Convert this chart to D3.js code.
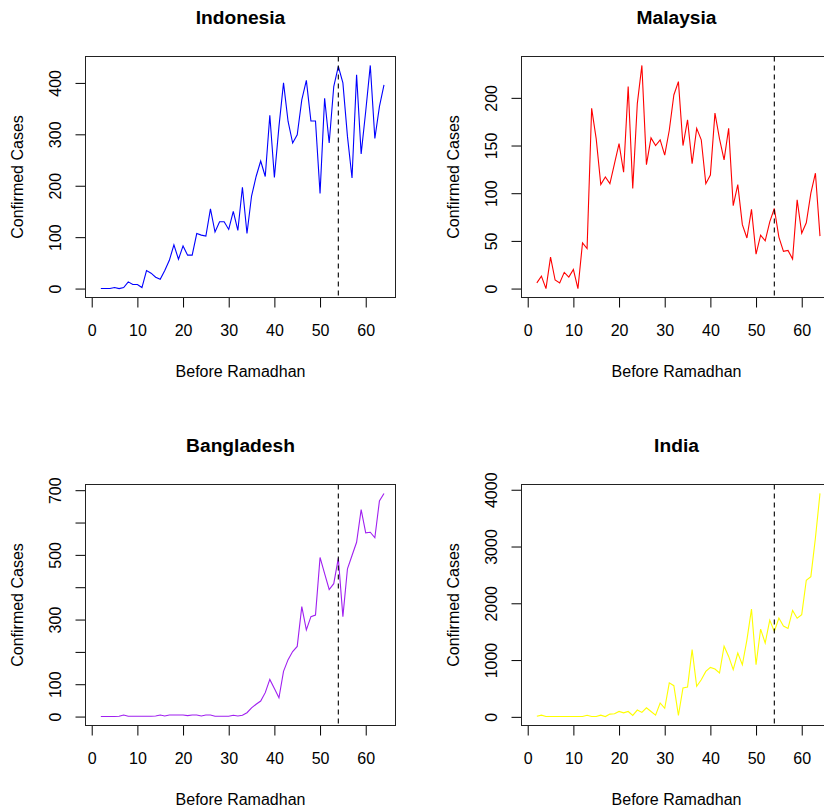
<!DOCTYPE html>
<html>
<head>
<meta charset="utf-8">
<script src="https://cdn.jsdelivr.net/npm/d3@7"></script>
<style>
  body { margin: 0; background: #fff; }
  svg { display: block; font-family: "Liberation Sans", Arial, sans-serif; }
</style>
</head>
<body>
<svg id="chart" width="824" height="807"></svg>
<script>

// days before Ramadhan (x axis)
const days = d3.range(2, 65);
const ramadhanDay = 54;

const indonesia = [0, 0, 0, 2, 0, 2, 13, 8, 8, 2,
    35, 30, 22, 18, 35, 55, 85, 57, 83, 65,
    65, 107, 104, 102, 155, 110, 130, 130, 115, 150,
    113, 197, 107, 180, 218, 248, 218, 337, 216, 315,
    400, 325, 283, 299, 367, 405, 326, 326, 185, 370,
    283, 393, 432, 400, 296, 215, 416, 262, 345, 434,
    292, 354, 396];

const malaysia = [6, 13, 0, 33, 9, 6, 17, 12, 20, 0,
    48, 42, 189, 157, 109, 117, 110, 131, 152, 122,
    212, 105, 194, 234, 130, 158, 150, 156, 140, 166,
    203, 217, 150, 177, 131, 168, 156, 110, 119, 184,
    157, 135, 168, 87, 109, 67, 53, 83, 36, 56,
    50, 70, 84, 54, 39, 40, 31, 93, 58, 69,
    100, 121, 55];

const bangladesh = [0, 0, 0, 0, 1, 5, 1, 1, 1, 1,
    1, 1, 2, 5, 2, 5, 5, 5, 5, 3,
    5, 5, 2, 5, 5, 1, 1, 1, 1, 4,
    2, 4, 12, 27, 38, 48, 74, 115, 87, 58,
    140, 176, 201, 217, 340, 268, 309, 314, 492, 442,
    393, 411, 490, 309, 457, 498, 539, 640, 568, 570,
    553, 667, 690];

const india = [10, 30, 5, 5, 5, 5, 5, 5, 5, 5,
    5, 28, 5, 5, 30, 5, 48, 55, 95, 70,
    95, 25, 120, 78, 160, 95, 30, 245, 150, 600,
    549, 25, 508, 526, 1185, 537, 654, 800, 871, 842,
    772, 1245, 1064, 832, 1125, 918, 1357, 1898, 918, 1545,
    1300, 1705, 1505, 1740, 1600, 1557, 1875, 1737, 1800, 2405,
    2470, 3150, 3935];

const countries = ['Indonesia', 'Malaysia', 'Bangladesh', 'India'];
const seriesList = [indonesia, malaysia, bangladesh, india];
const lineColors = ['#0000ff', '#ff0000', '#a020f0', '#ffff00'];

const xTicks = [0, 10, 20, 30, 40, 50, 60];
const indonesiaTicks = [0, 100, 200, 300, 400];
const malaysiaTicks = [0, 50, 100, 150, 200];
const bangladeshTicks = [0, 100, 200, 300, 400, 500, 600, 700];
const bangladeshLabels = [0, 100, 300, 500, 700];
const indiaTicks = [0, 1000, 2000, 3000, 4000];
const yTickList = [indonesiaTicks, malaysiaTicks, bangladeshTicks, indiaTicks];

(function () {

    const svg = d3.select('#chart');

    // plot box of each panel (R's par(mfrow=c(2,2)) layout)
    const boxW = 310, boxH = 241;
    const origins = [[85.5, 56.5], [521.5, 56.5], [85.5, 484.5], [521.5, 484.5]];

    const x = d3.scaleLinear()
        .domain([-1.36, 66.52])
        .range([0, boxW]);

    countries.forEach(function (name, i) {

        let values = seriesList[i],
            lo = d3.min(values),
            hi = d3.max(values),
            pad = (hi - lo) * 0.04;

        let y = d3.scaleLinear()
            .domain([lo - pad, hi + pad])
            .range([boxH, 0]);

        let g = svg.append('g')
            .attr('transform', 'translate(' + origins[i][0] + ',' + origins[i][1] + ')');

        // title
        g.append('text')
            .attr('x', boxW / 2)
            .attr('y', -33)
            .attr('text-anchor', 'middle')
            .style('font-size', '19.2px')
            .style('font-weight', 'bold')
            .text(name);

        // x axis
        let xAxis = g.append('g')
            .attr('transform', 'translate(0,' + boxH + ')')
            .call(d3.axisBottom(x).tickValues(xTicks).tickSize(10).tickPadding(17));
        xAxis.select('.domain').remove();

        // y axis, labels parallel to the axis like R
        let labels = i === 2 ? bangladeshLabels : yTickList[i];
        let yAxis = g.append('g')
            .call(d3.axisLeft(y).tickValues(yTickList[i]).tickSize(10)
                .tickFormat(d => labels.includes(d) ? d : ''));
        yAxis.select('.domain').remove();
        yAxis.selectAll('text')
            .attr('x', null)
            .attr('dy', null)
            .attr('text-anchor', 'middle')
            .attr('transform', 'translate(-24.5,0) rotate(-90)');

        g.selectAll('.tick line').attr('stroke', '#000');
        g.selectAll('.tick text')
            .attr('fill', '#000')
            .style('font-size', '16px')
            .style('font-family', '"Liberation Sans", Arial, sans-serif');

        // axis titles
        g.append('text')
            .attr('x', boxW / 2)
            .attr('y', boxH + 79)
            .attr('text-anchor', 'middle')
            .style('font-size', '16px')
            .text('Before Ramadhan');

        g.append('text')
            .attr('transform', 'translate(-63,' + (boxH / 2) + ') rotate(-90)')
            .attr('text-anchor', 'middle')
            .style('font-size', '16px')
            .text('Confirmed Cases');

        // the series
        const line = d3.line()
            .x((d, j) => x(days[j]))
            .y(d => y(d));

        g.append('path')
            .datum(values)
            .attr('d', line)
            .attr('fill', 'none')
            .attr('stroke', lineColors[i])
            .attr('stroke-width', 1.1);

        // start of Ramadhan
        g.append('line')
            .attr('x1', x(ramadhanDay))
            .attr('x2', x(ramadhanDay))
            .attr('y1', 0)
            .attr('y2', boxH)
            .attr('stroke', '#000')
            .attr('stroke-width', 1.1)
            .attr('stroke-dasharray', '5,4');

        // box
        g.append('rect')
            .attr('width', boxW)
            .attr('height', boxH)
            .attr('fill', 'none')
            .attr('stroke', '#222')
            .attr('stroke-width', 1);
    });

}());
</script>
</body>
</html>
